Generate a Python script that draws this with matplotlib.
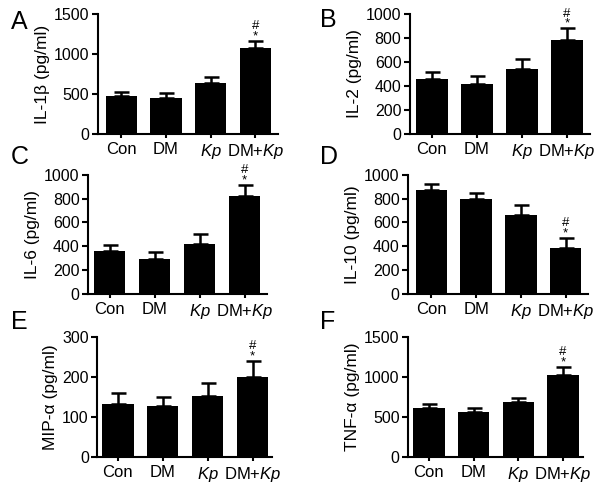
import matplotlib
matplotlib.use("Agg")
import matplotlib.pyplot as plt

plt.rcParams["font.family"] = ["Liberation Sans", "DejaVu Sans"]
plt.rcParams["mathtext.fontset"] = "custom"
plt.rcParams["mathtext.rm"] = "Liberation Sans"
plt.rcParams["mathtext.it"] = "Liberation Sans:italic"

GROUPS = ["Con", "DM", "$Kp$", "DM+$Kp$"]

IL1B      = [475, 454, 634, 1071]
IL1B_ERR  = [50, 58, 82, 91]
IL2       = [460, 420, 545, 785]
IL2_ERR   = [55, 60, 80, 95]
IL6       = [355, 294, 418, 825]
IL6_ERR   = [57, 56, 84, 90]
IL10      = [870, 795, 665, 385]
IL10_ERR  = [50, 55, 85, 85]
MIP       = [131, 127, 152, 200]
MIP_ERR   = [29, 22, 32, 40]
TNF       = [617, 567, 688, 1030]
TNF_ERR   = [42, 42, 46, 95]

# letter, ylabel, values, errors, yticks, axes rect, xlim
PANELS = [
    ("A", "IL-1β (pg/ml)", IL1B, IL1B_ERR, [0, 500, 1000, 1500],
     [0.161, 0.725, 0.297, 0.246], (-0.53, 3.51)),
    ("B", "IL-2 (pg/ml)", IL2, IL2_ERR, [0, 200, 400, 600, 800, 1000],
     [0.675, 0.725, 0.297, 0.246], (-0.49, 3.51)),
    ("C", "IL-6 (pg/ml)", IL6, IL6_ERR, [0, 200, 400, 600, 800, 1000],
     [0.145, 0.397, 0.295, 0.244], (-0.48, 3.50)),
    ("D", "IL-10 (pg/ml)", IL10, IL10_ERR, [0, 200, 400, 600, 800, 1000],
     [0.672, 0.397, 0.297, 0.244], (-0.52, 3.50)),
    ("E", "MIP-α (pg/ml)", MIP, MIP_ERR, [0, 100, 200, 300],
     [0.160, 0.062, 0.288, 0.246], (-0.46, 3.43)),
    ("F", "TNF-α (pg/ml)", TNF, TNF_ERR, [0, 500, 1000, 1500],
     [0.672, 0.062, 0.288, 0.246], (-0.47, 3.44)),
]

LETTER_POS = {"A": (0.018, 0.954), "B": (0.528, 0.958), "C": (0.018, 0.677),
              "D": (0.528, 0.677), "E": (0.018, 0.339), "F": (0.528, 0.339)}

fig = plt.figure(figsize=(6.07, 4.87), dpi=100)

for letter, ylabel, vals, errs, yticks, rect, xlim in PANELS:
    ax = fig.add_axes(rect)
    xpos = range(len(vals))
    ax.bar(xpos, vals, width=0.70, color="black", zorder=2)
    ax.errorbar(xpos, vals, yerr=[[0] * len(errs), errs], fmt="none",
                ecolor="black", elinewidth=1.8, capsize=5.4, capthick=1.8,
                zorder=1)
    # significance marks stacked in one text: # over *
    top = vals[3] + errs[3]
    ax.annotate("#\n*", (3, top), xytext=(0, -1), textcoords="offset points",
                ha="center", va="bottom", fontsize=9.5, linespacing=0.8)

    ax.set_ylim(0, yticks[-1])
    ax.set_yticks(yticks)
    ax.set_xlim(*xlim)
    ax.set_xticks(list(xpos))
    ax.set_xticklabels(GROUPS)
    ax.set_ylabel(ylabel, fontsize=12.5, labelpad=3)
    for side in ("top", "right"):
        ax.spines[side].set_visible(False)
    for side in ("left", "bottom"):
        ax.spines[side].set_linewidth(1.5)
    ax.tick_params(axis="y", labelsize=11.5, width=1.5, length=4, pad=2)
    ax.tick_params(axis="x", labelsize=12, width=1.5, length=3, pad=3)
    fx, fy = LETTER_POS[letter]
    fig.text(fx, fy, letter, fontsize=18, ha="left", va="center")

fig.savefig("out.png", dpi=100)
